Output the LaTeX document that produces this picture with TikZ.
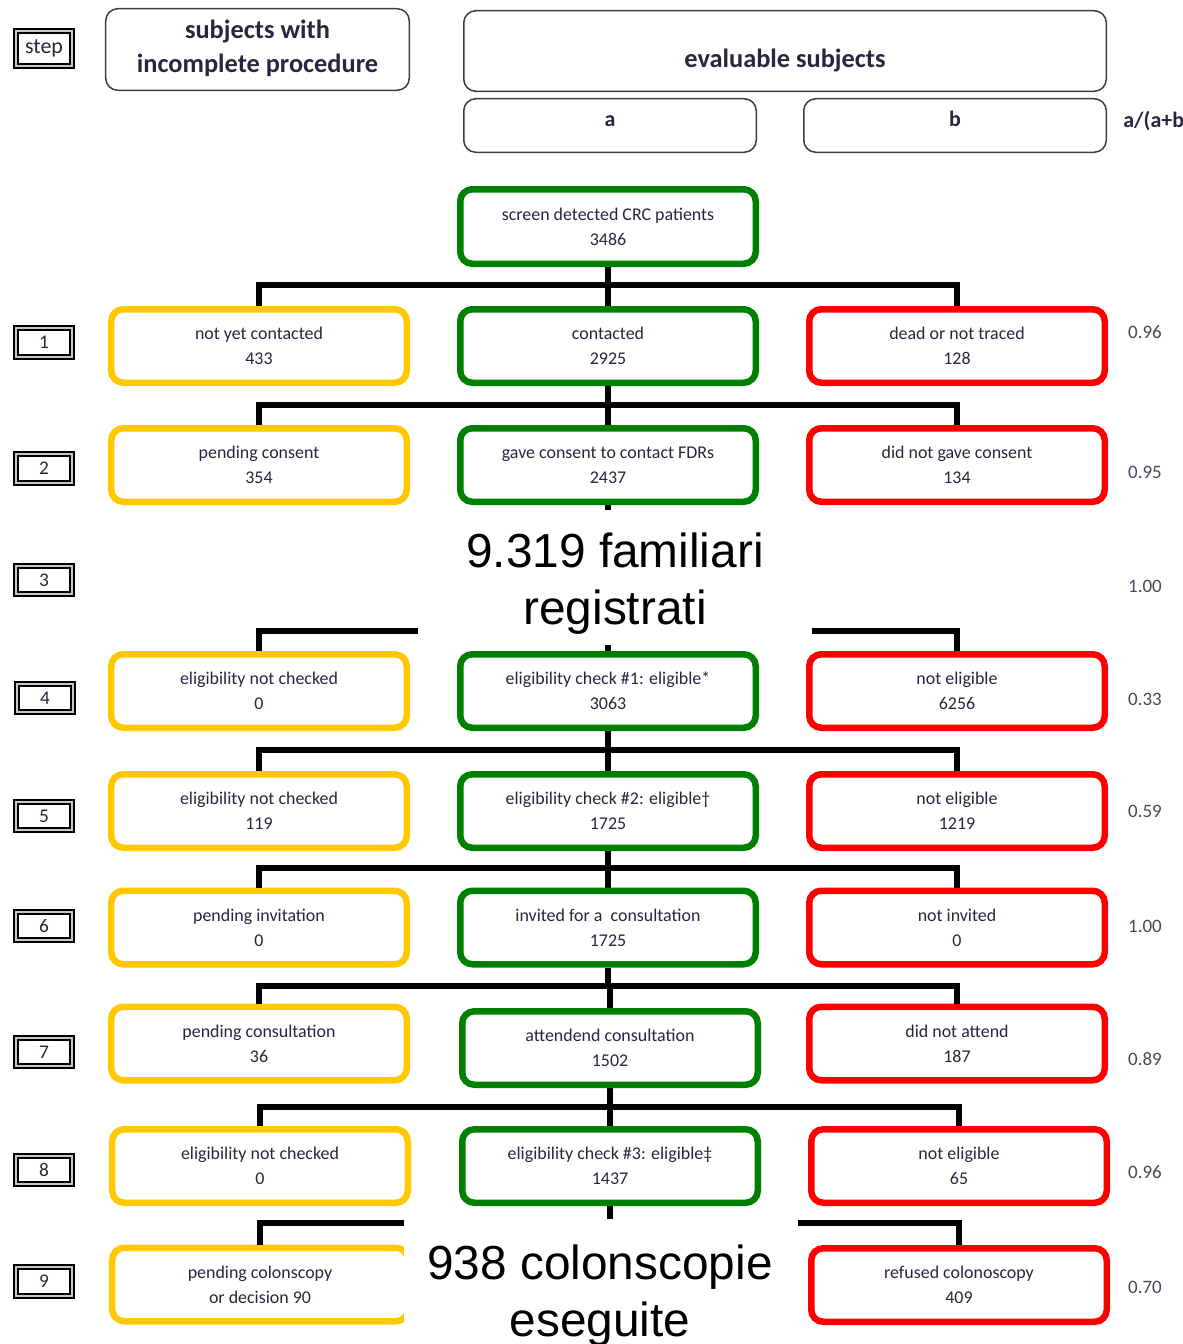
\documentclass[tikz,border=0pt]{standalone}
\usepackage{fontspec}
\setmainfont{Carlito}
\newfontfamily\arialfont{Liberation Sans}
\definecolor{yel}{RGB}{255,200,0}
\definecolor{grn}{RGB}{0,128,0}
\definecolor{rd}{RGB}{255,0,0}
\definecolor{txt}{RGB}{38,38,64}
\definecolor{hdr}{RGB}{60,60,60}
\begin{document}
\begin{tikzpicture}[x=0.2mm,y=-0.2mm,
 box/.style={rectangle, rounded corners=2.4mm, line width=1.3mm, minimum width=59.1mm, minimum height=14.7mm, align=center, font=\fontsize{10.2}{14.2}\selectfont, text=txt, fill=white, inner sep=0pt},
 ybox/.style={box, draw=yel},
 gbox/.style={box, draw=grn},
 rbox/.style={box, draw=rd},
 conn/.style={line width=1.3mm, draw=black},
 stepbox/.style={draw=black, line width=0.45mm, double=gray!45, double distance=0.35mm, minimum width=11.3mm, minimum height=5.7mm, inner sep=0pt, font=\fontsize{11}{12}\selectfont, text=txt},
 hbox/.style={draw=hdr, line width=0.3mm, rounded corners=2.4mm, inner sep=0pt},
 htext/.style={align=center, inner sep=0pt, font=\bfseries\fontsize{15}{19.3}\selectfont, text=txt},
 abtext/.style={inner sep=0pt, font=\bfseries\fontsize{12.5}{14}\selectfont, text=txt},
 ratio/.style={font=\fontsize{10.8}{12}\selectfont, text=txt!85, inner sep=0pt},
 mask/.style={fill=white, inner sep=0pt, minimum width=78.8mm},
 masktext/.style={align=center, inner sep=0pt, text=black, font=\arialfont\fontsize{27.2}{32.5}\selectfont}
]
\useasboundingbox (0,0) rectangle (1182,1344);
\clip (0,0) rectangle (1182,1344);

% header
\node[stepbox, minimum height=6.9mm, font=\fontsize{12.5}{14}\selectfont] (s0) at (44,48.5) {step};
\node[hbox, minimum width=60.7mm, minimum height=16.3mm] (hinc) at (257.5,49.5) {};
\node[htext] (hinct) at (257.5,48) {subjects with\\incomplete procedure};
\node[hbox, minimum width=128.5mm, minimum height=16.1mm] (heval) at (785,51) {};
\node[htext] (hevalt) at (785,60) {evaluable subjects};
\node[hbox, minimum width=58.5mm, minimum height=10.7mm] (ha) at (610,125.5) {};
\node[abtext] (hat) at (610,121) {a};
\node[hbox, minimum width=60.5mm, minimum height=10.7mm] (hb) at (955,125.5) {};
\node[abtext] (hbt) at (955,119) {b};
\node[abtext, anchor=west] (hab) at (1123,121) {a/(a+b)};

% step labels
\node[stepbox] (s1) at (44,342.5) {1};
\node[stepbox] (s2) at (44,468.5) {2};
\node[stepbox] (s3) at (44,580) {3};
\node[stepbox] (s4) at (45,698) {4};
\node[stepbox] (s5) at (44,816) {5};
\node[stepbox] (s6) at (44,926) {6};
\node[stepbox] (s7) at (44,1052) {7};
\node[stepbox] (s8) at (44,1170) {8};
\node[stepbox] (s9) at (44,1281.5) {9};

% ratios
\node[ratio] (q1) at (1145,332) {0.96};
\node[ratio] (q2) at (1145,472) {0.95};
\node[ratio] (q3) at (1145,586) {1.00};
\node[ratio] (q4) at (1145,699) {0.33};
\node[ratio] (q5) at (1145,811) {0.59};
\node[ratio] (q6) at (1145,926) {1.00};
\node[ratio] (q7) at (1145,1059) {0.89};
\node[ratio] (q8) at (1145,1172) {0.96};
\node[ratio] (q9) at (1145,1287) {0.70};

% boxes
\node[gbox, minimum height=14.9mm] (c0) at (608,226.5) {screen detected CRC patients\\3486};

\node[ybox] (l1) at (259,346) {not yet contacted\\433};
\node[gbox] (c1) at (608,346) {contacted\\2925};
\node[rbox] (r1) at (957,346) {dead or not traced\\128};

\node[ybox] (l2) at (259,465) {pending consent\\354};
\node[gbox] (c2) at (608,465) {gave consent to contact FDRs\\2437};
\node[rbox] (r2) at (957,465) {did not gave consent\\134};

\node[ybox] (l4) at (259,691) {eligibility not checked\\0};
\node[gbox] (c4) at (608,691) {eligibility check \#1: eligible*\\3063};
\node[rbox] (r4) at (957,691) {not eligible\\6256};

\node[ybox] (l5) at (259,811) {eligibility not checked\\119};
\node[gbox] (c5) at (608,811) {eligibility check \#2: eligible†\\1725};
\node[rbox] (r5) at (957,811) {not eligible\\1219};

\node[ybox] (l6) at (259,927.5) {pending invitation\\0};
\node[gbox] (c6) at (608,927.5) {invited for a~ consultation\\1725};
\node[rbox] (r6) at (957,927.5) {not invited\\0};

\node[ybox] (l7) at (259,1043.5) {pending consultation\\36};
\node[gbox] (c7) at (610,1048) {attendend consultation\\1502};
\node[rbox] (r7) at (957,1043.5) {did not attend\\187};

\node[ybox] (l8) at (260,1166) {eligibility not checked\\0};
\node[gbox] (c8) at (610,1166) {eligibility check \#3: eligible‡\\1437};
\node[rbox] (r8) at (959,1166) {not eligible\\65};

\node[ybox] (l9) at (260,1284.5) {pending colonscopy\\or decision 90};
\node[rbox] (r9) at (959,1285) {refused colonoscopy\\409};

% bar coordinates
\coordinate (b1) at (608,285);
\coordinate (b2) at (608,405);
\coordinate (b4) at (608,631);
\coordinate (b5) at (608,750);
\coordinate (b6) at (608,868);
\coordinate (b7) at (608,986);
\coordinate (b8) at (610,1107);
\coordinate (b9) at (610,1223);

% connectors
\draw[conn] (c0.south) -- (c1.north);
\draw[conn] (l1.north) |- (b1) -| (r1.north);
\draw[conn] (c1.south) -- (c2.north);
\draw[conn] (l2.north) |- (b2) -| (r2.north);
\draw[conn] (c2.south) -- (c4.north);
\draw[conn] (l4.north) |- (b4) -| (r4.north);
\draw[conn] (c4.south) -- (c5.north);
\draw[conn] (l5.north) |- (b5) -| (r5.north);
\draw[conn] (c5.south) -- (c6.north);
\draw[conn] (l6.north) |- (b6) -| (r6.north);
\draw[conn] (c6.south) -- (c6.south |- b7);
\draw[conn] (c7.north) -- (c7.north |- b7);
\draw[conn] (l7.north) |- (b7) -| (r7.north);
\draw[conn] (c7.south) -- (c8.north);
\draw[conn] (l8.north) |- (b8) -| (r8.north);
\draw[conn] (c8.south) -- (c8.south |- 0,1260);
\draw[conn] (l9.north) |- (b9) -| (r9.north);

% overlays
\node[mask, minimum height=27mm] (m1) at (615,577.5) {};
\node[masktext] (m1t) at (615,584) {9.319 familiari\\registrati};
\node[mask, minimum height=28.4mm] (m2) at (601,1290) {};
\node[masktext] (m2t) at (600,1296) {938 colonscopie\\eseguite};
\end{tikzpicture}
\end{document}
